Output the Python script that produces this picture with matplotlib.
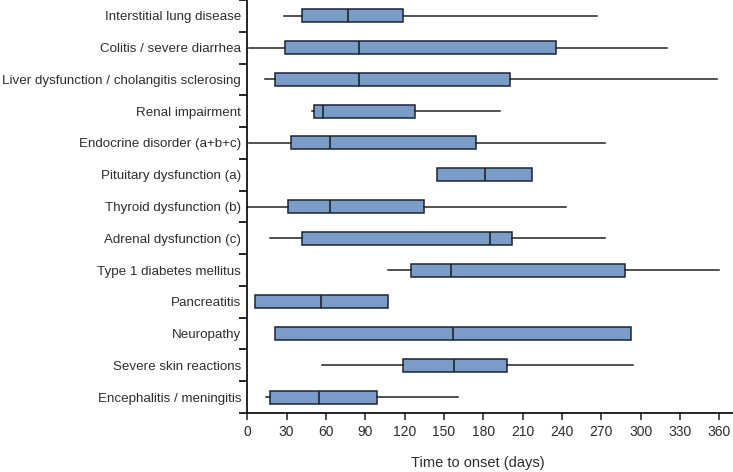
import matplotlib.pyplot as plt
import numpy as np

plt.rcParams['font.family'] = ['Liberation Sans', 'DejaVu Sans']

# Categories, top to bottom
events = ["Interstitial lung disease", "Colitis / severe diarrhea",
          "Liver dysfunction / cholangitis sclerosing", "Renal impairment",
          "Endocrine disorder (a+b+c)", "Pituitary dysfunction (a)",
          "Thyroid dysfunction (b)", "Adrenal dysfunction (c)",
          "Type 1 diabetes mellitus", "Pancreatitis", "Neuropathy",
          "Severe skin reactions", "Encephalitis / meningitis"]

# time to onset (days): whisker low, Q1, median, Q3, whisker high
wlo = [28, 1, 13.5, 49.6, 1, 145, 0, 17, 107, 6, 21, 57, 14]
q1 = [42, 29, 21, 51, 33, 145, 31, 42, 125, 6, 21, 119, 17]
med = [76.5, 85, 85, 58, 63, 181, 63, 185, 155, 56.5, 157, 158, 55]
q3 = [119, 235.5, 200.5, 128, 174.5, 217, 135, 202, 288, 107, 293, 198, 99]
whi = [267, 320, 358, 193, 273, 217, 243, 273, 360, 107, 293, 294, 161]

stats = []
for i in range(len(events)):
    stats.append(dict(label=events[i], whislo=wlo[i], q1=q1[i], med=med[i],
                      q3=q3[i], whishi=whi[i], fliers=[]))

fig = plt.figure(figsize=(7.33, 4.72), dpi=100)
ax = fig.add_axes([0.3374, 0.125, 0.6626, 0.875])

pos = np.arange(len(events))[::-1]
ax.bxp(stats, positions=pos, vert=False, widths=0.41, patch_artist=True,
       showcaps=False,
       boxprops=dict(facecolor='#7b9cc7', edgecolor='#1c2533', linewidth=1.1),
       medianprops=dict(color='#1c2533', linewidth=1.2),
       whiskerprops=dict(color='#222222', linewidth=1.1))

ax.set_ylim(-0.5, len(events) - 0.5)
ax.set_xlim(0, 370.5)
ax.set_xticks(np.arange(0, 361, 30))
ax.set_yticks(pos)
ax.set_yticklabels(events)
ax.set_yticks(np.arange(-0.5, len(events), 1), minor=True)
ax.tick_params(axis='y', which='major', length=0, labelsize=9.6, pad=4.5,
               colors='#2e2e2e')
ax.tick_params(axis='y', which='minor', length=6, width=1.2, direction='out')
ax.tick_params(axis='x', length=5, width=1.2, labelsize=10, colors='#2e2e2e')
for t in ax.get_yticklines(minor=True) + ax.get_xticklines():
    t.set_color('black')

for s in ['top', 'right']:
    ax.spines[s].set_visible(False)
for s in ['left', 'bottom']:
    ax.spines[s].set_linewidth(1.2)

ax.set_xlabel("Time to onset (days)", fontsize=10.5, color='#2e2e2e')
ax.xaxis.set_label_coords(0.475, -0.105)

fig.savefig("out.png", dpi=100)
